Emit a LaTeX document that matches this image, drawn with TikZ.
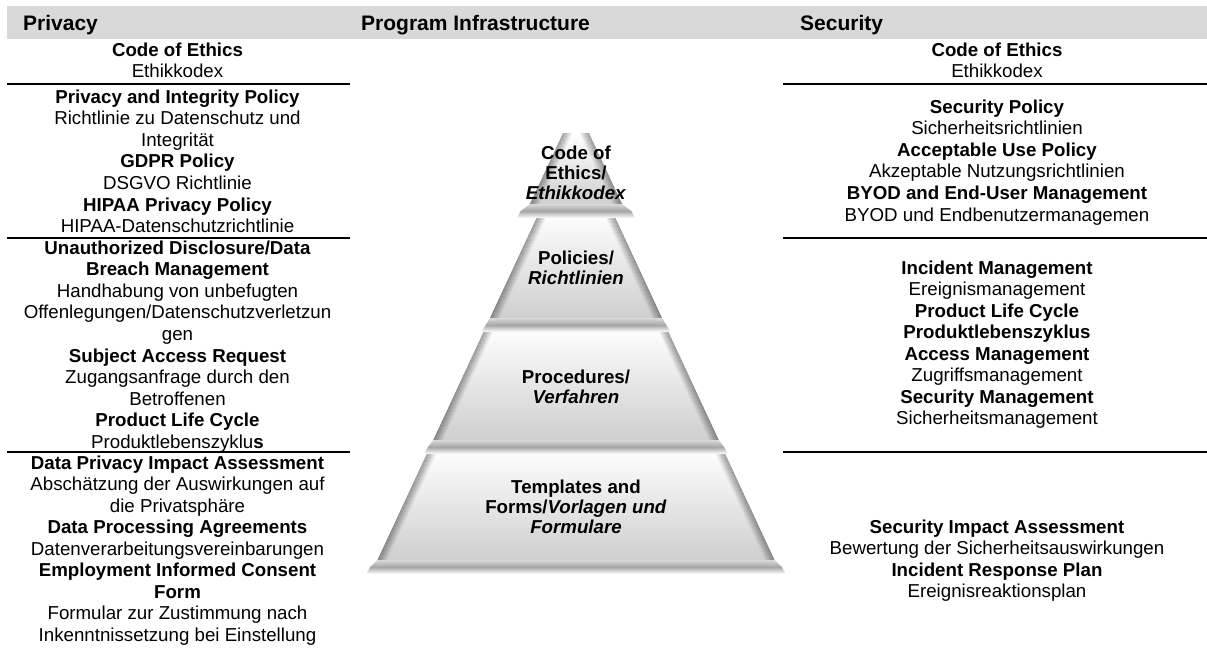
\documentclass[tikz,border=0pt]{standalone}
\usepackage{fontspec}
\setmainfont{Liberation Sans}
\usetikzlibrary{calc}
\definecolor{hdrgray}{HTML}{D9D9D9}
\newcommand\txtlines[6]{%
  \foreach \ltx [count=\i] in {#6}{\node[#1] (#5\i) at (#2,{#3+(\i-1)*#4}) {\ltx};}}
\newcommand\pyrtier[5]{%
  \pgfmathsetmacro\hwa{#4+0.465*(#1-133)}%
  \pgfmathsetmacro\hwb{#4+0.465*(#2-133)}%
  \pgfmathsetmacro\hwc{#4+0.465*(#3-133)+#5}%
  \pgfmathsetmacro\hwd{\hwc+4}%
  \shade[top color=gray!70, bottom color=white] (576-\hwc,#3) -- (576+\hwc,#3) -- (576+\hwd,#3+7) -- (576-\hwd,#3+7) -- cycle;
  \shade[top color=white, bottom color=gray!38] (576-\hwa,#1) -- (576+\hwa,#1) -- (576+\hwb,#2) -- (576-\hwb,#2) -- cycle;
  \begin{scope}
    \clip (576-\hwa,#1) -- (576+\hwa,#1) -- (576+\hwb,#2) -- (576-\hwb,#2) -- cycle;
    \foreach \i [evaluate=\i as \op using {0.28*(1-\i/10)}] in {0,...,9}{
      \draw[black, line width=1.2pt, opacity=\op] (576-\hwa+\i,#1) -- (576-\hwb+\i,#2);
      \draw[black, line width=1.2pt, opacity=\op] (576+\hwa-\i,#1) -- (576+\hwb-\i,#2);
    }
  \end{scope}
  \shade[top color=gray!30, bottom color=gray!70] (576-\hwb,#2) -- (576+\hwb,#2) -- (576+\hwc,#3) -- (576-\hwc,#3) -- cycle;
}
\begin{document}
\begin{tikzpicture}[x=1pt,y=-1pt,
  tx/.style={font=\fontsize{18.7}{21.6}\selectfont, anchor=base, inner sep=0pt},
  ptx/.style={anchor=base, inner sep=0pt, font=\fontsize{18.7}{20}\selectfont\bfseries},
  hd/.style={anchor=base west, inner sep=0pt, font=\fontsize{21}{24}\selectfont\bfseries},
  sepline/.style={line width=2pt, black}]
\useasboundingbox (0,0) rectangle (1207,664);

% header band
\fill[hdrgray] (7,6) rectangle (1207,39);
\node[hd] (hPriv) at (23,30) {Privacy};
\node[hd] (hProg) at (361,30) {Program Infrastructure};
\node[hd] (hSec) at (800,30) {Security};

% separators
\foreach \yy in {84,237.5,452}{
  \draw[sepline] (7,\yy) -- (350,\yy);
  \draw[sepline] (783,\yy) -- (1207,\yy);
}

% left column
\txtlines{tx}{177.5}{56}{21.6}{La}{{\bfseries Code of Ethics},Ethikkodex}
\txtlines{tx}{177.5}{103}{21.6}{Lb}{{\bfseries Privacy and Integrity Policy},Richtlinie zu Datenschutz und,Integrität,{\bfseries GDPR Policy},DSGVO Richtlinie,{\bfseries HIPAA Privacy Policy},HIPAA-Datenschutzrichtlinie}
\txtlines{tx}{177.5}{254}{21.6}{Lc}{{\bfseries Unauthorized Disclosure/Data},{\bfseries Breach Management},Handhabung von unbefugten,Offenlegungen/Datenschutzverletzun,gen,{\bfseries Subject Access Request},Zugangsanfrage durch den,Betroffenen,{\bfseries Product Life Cycle},Produktlebenszyklu\textbf{s}}
\txtlines{tx}{177.5}{469}{21.5}{Ld}{{\bfseries Data Privacy Impact Assessment},Abschätzung der Auswirkungen auf,die Privatsphäre,{\bfseries Data Processing Agreements},Datenverarbeitungsvereinbarungen,{\bfseries Employment Informed Consent},{\bfseries Form},Formular zur Zustimmung nach,Inkenntnissetzung bei Einstellung}

% right column
\txtlines{tx}{997}{56}{21.6}{Ra}{{\bfseries Code of Ethics},Ethikkodex}
\txtlines{tx}{997}{113}{21.6}{Rb}{{\bfseries Security Policy},Sicherheitsrichtlinien,{\bfseries Acceptable Use Policy},Akzeptable Nutzungsrichtlinien,{\bfseries BYOD and End-User Management},BYOD und Endbenutzermanagemen}
\txtlines{tx}{997}{274}{21.5}{Rc}{{\bfseries Incident Management},Ereignismanagement,{\bfseries Product Life Cycle},{\bfseries Produktlebenszyklus},{\bfseries Access Management},Zugriffsmanagement,{\bfseries Security Management},Sicherheitsmanagement}
\txtlines{tx}{997}{533}{21.6}{Rd}{{\bfseries Security Impact Assessment},Bewertung der Sicherheitsauswirkungen,{\bfseries Incident Response Plan},Ereignisreaktionsplan}

% pyramid (bottom tier first)
\pyrtier{447}{560}{567}{0}{4}
\pyrtier{325}{440}{447}{0}{2}
\pyrtier{211}{318}{325}{0}{1}
\pyrtier{133}{204}{211}{13}{6}

\txtlines{ptx}{576}{159}{20}{Pa}{Code of,Ethics/,\textit{Ethikkodex}}
\txtlines{ptx}{576}{264}{20}{Pb}{Policies/,\textit{Richtlinien}}
\txtlines{ptx}{576}{383}{20}{Pc}{Procedures/,\textit{Verfahren}}
\txtlines{ptx}{576}{493}{20}{Pd}{Templates and,Forms/\textit{Vorlagen und},\textit{Formulare}}
\end{tikzpicture}
\end{document}
